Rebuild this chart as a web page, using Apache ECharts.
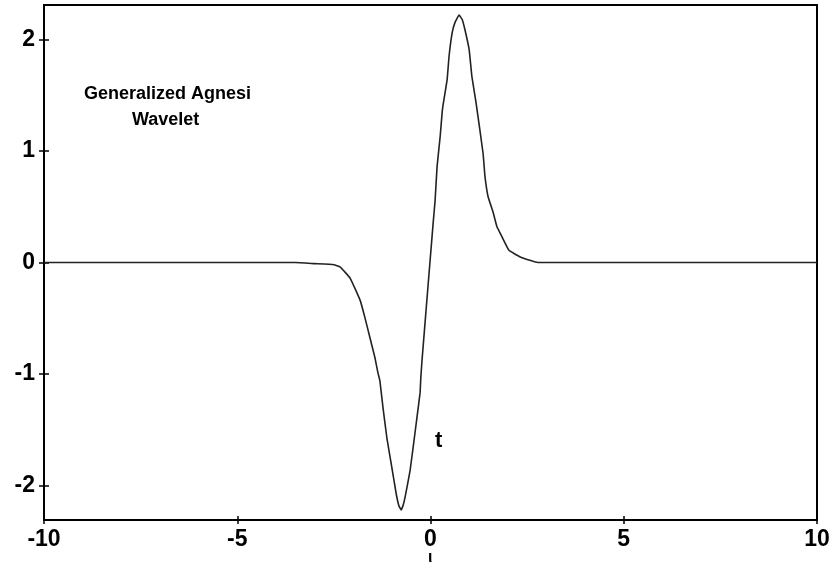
<!DOCTYPE html>
<html>
<head>
<meta charset="utf-8">
<script src="https://cdn.jsdelivr.net/npm/echarts@6/dist/echarts.min.js"></script>
<style>
  html, body { margin: 0; padding: 0; background: #fff; }
  #chart { width: 830px; height: 569px; }
</style>
</head>
<body>
<div id="chart"></div>
<script>
// 读图得到的 t 坐标与小波值
const tValues = [
  -10, -3.5, -3.0, -2.5, -2.34, -2.08, -1.82, -1.70, -1.57, -1.44, -1.36, -1.31,
  -1.23, -1.13, -1.0, -0.89, -0.82, -0.76, -0.71, -0.66, -0.53, -0.45, -0.35,
  -0.27, -0.25, -0.22, -0.01, 0.07, 0.12, 0.17, 0.25, 0.30, 0.32, 0.43, 0.48,
  0.56, 0.63, 0.74, 0.82, 0.89, 1.0, 1.07, 1.18, 1.36, 1.41, 1.49, 1.62, 1.72,
  1.85, 2.03, 2.32, 2.57, 2.78, 3.5, 10
];
const waveValues = [
  0, 0, -0.01, -0.02, -0.04, -0.14, -0.34, -0.49, -0.67, -0.85, -0.99, -1.06,
  -1.30, -1.57, -1.84, -2.07, -2.18, -2.22, -2.18, -2.11, -1.87, -1.66, -1.39,
  -1.17, -1.03, -0.88, 0.02, 0.36, 0.56, 0.86, 1.13, 1.34, 1.40, 1.64, 1.85,
  2.06, 2.15, 2.22, 2.18, 2.09, 1.91, 1.67, 1.43, 0.98, 0.77, 0.59, 0.45, 0.32,
  0.23, 0.11, 0.05, 0.02, 0, 0, 0
];

// 刻度
const xTicks = [-10, -5, 0, 5, 10];
const yTicks = [-2, -1, 0, 1, 2];

const chart = echarts.init(document.getElementById('chart'));

const labelFont = {
  color: '#000',
  fontFamily: 'Liberation Sans',
  fontWeight: 'bold',
  fontSize: 23
};
const axisLine = { onZero: false, lineStyle: { color: '#000', width: 2 } };
const tickStyle = { color: '#000', width: 1.5 };

const option = {
  animation: false,
  grid: {
    left: 44, right: 13, top: 5, bottom: 49,
    outerBoundsMode: 'none',
    show: true, borderColor: '#000', borderWidth: 2
  },
  xAxis: [{
    type: 'value', min: -10, max: 10,
    axisLine: axisLine,
    axisTick: { length: 4, customValues: xTicks, lineStyle: tickStyle },
    axisLabel: Object.assign({ margin: 8, customValues: xTicks }, labelFont),
    splitLine: { show: false }
  }, {
    // 顶部轴下移到底边，刻度朝上伸进绘图区（刻度线穿过坐标轴）
    type: 'value', min: -10, max: 10, position: 'top', offset: -515,
    axisLine: axisLine,
    axisTick: { length: 4, customValues: xTicks, lineStyle: tickStyle },
    axisLabel: { show: false },
    splitLine: { show: false }
  }],
  yAxis: [{
    type: 'value', min: -2.31, max: 2.31,
    axisLine: axisLine,
    axisTick: { length: 5, customValues: yTicks, lineStyle: tickStyle },
    axisLabel: Object.assign({ margin: 9, customValues: yTicks }, labelFont),
    splitLine: { show: false }
  }, {
    // 右侧轴左移到左边，刻度朝右
    type: 'value', min: -2.31, max: 2.31, position: 'right', offset: -773,
    axisLine: axisLine,
    axisTick: { length: 5, customValues: yTicks, lineStyle: tickStyle },
    axisLabel: { show: false },
    splitLine: { show: false }
  }],
  graphic: [
    { type: 'text', left: 84, top: 85,
      style: { text: 'Generalized Agnesi', fill: '#000', font: 'bold 18px "Liberation Sans"' } },
    { type: 'text', left: 132, top: 111,
      style: { text: 'Wavelet', fill: '#000', font: 'bold 18px "Liberation Sans"' } },
    { type: 'text', left: 435, top: 430,
      style: { text: 't', fill: '#000', font: 'bold 22px "Liberation Sans"' } },
    { type: 'text', left: 428, top: 550,
      style: { text: 'ι', fill: '#000', font: 'bold 16px "Liberation Sans"' } }
  ],
  series: [{
    type: 'line',
    data: tValues.map((t, i) => [t, waveValues[i]]),
    showSymbol: false,
    smooth: 0.1,
    lineStyle: { color: '#222', width: 1.6 }
  }]
};

chart.setOption(option);
</script>
</body>
</html>
